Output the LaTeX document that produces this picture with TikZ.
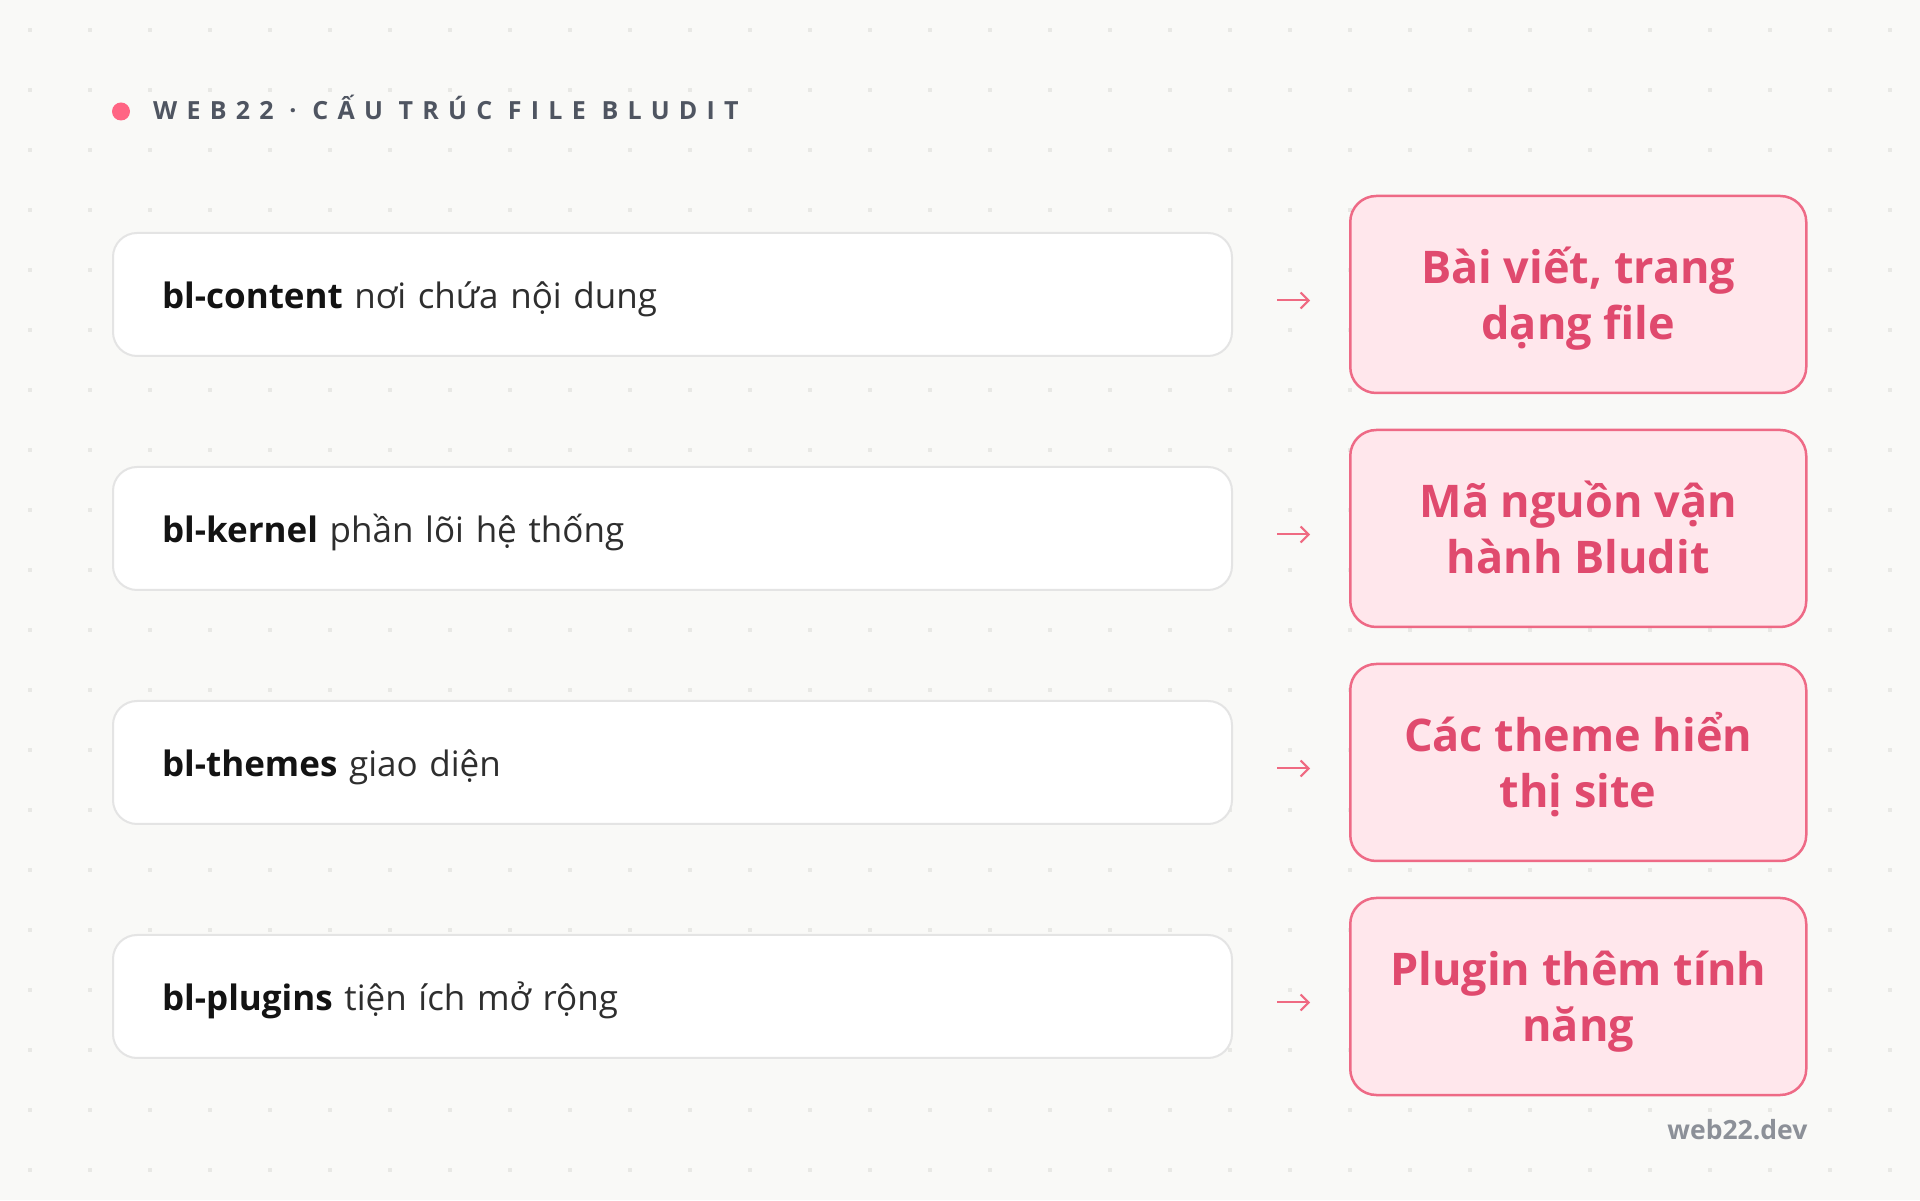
\documentclass[tikz,border=0pt]{standalone}
\usepackage{fontspec}
\setmainfont{Open Sans}
\newfontfamily\titlefont[LetterSpace=37]{Open Sans}
\usetikzlibrary{positioning}
\usetikzlibrary{arrows.meta}
\definecolor{bgcol}{HTML}{F9F9F7}
\definecolor{dotcol}{HTML}{E8E8E5}
\definecolor{boxline}{HTML}{E4E4E4}
\definecolor{bodytext}{HTML}{2E2E2E}
\definecolor{keytext}{HTML}{131313}
\definecolor{pinkfill}{HTML}{FFE7EC}
\definecolor{pinkline}{HTML}{EE6A86}
\definecolor{pinktext}{HTML}{E04A6E}
\definecolor{arrowpink}{HTML}{EF6A82}
\definecolor{dotpink}{HTML}{FF6584}
\definecolor{titlegray}{HTML}{4F5561}
\definecolor{footgray}{HTML}{8C9098}
\tikzset{folder/.style={draw=boxline, line width=2pt, fill=white, rounded corners=24pt,
  minimum height=123pt, text width=1021pt, inner xsep=49pt, align=left,
  font=\fontsize{35}{42}\selectfont, text=bodytext}}
\tikzset{role/.style={draw=pinkline, line width=2.5pt, fill=pinkfill, rounded corners=26pt,
  minimum width=456pt, minimum height=197pt, align=center,
  font=\bfseries\fontsize{45}{56}\selectfont, text=pinktext}}
\tikzset{link/.style={-{Straight Barb[length=8pt,width=16pt]}, line width=2pt, draw=arrowpink}}
\tikzset{footer/.style={inner sep=0pt, font=\bfseries\fontsize{26.5}{30}\selectfont, text=footgray}}
\newcommand{\key}[1]{\rule[-16pt]{0pt}{60pt}{\bfseries\color{keytext}#1}}
\newcommand{\twolines}[2]{\rule{0pt}{51pt}#1\\#2\rule[-16pt]{0pt}{16pt}}

\begin{document}
\begin{tikzpicture}[x=1pt,y=1pt,node distance=109pt]
   \useasboundingbox (0,0) rectangle (1920,1200);
   \fill[bgcol] (0,0) rectangle (1920,1200);
   % dot grid
   \foreach \i in {0,...,31}
      \foreach \j in {0,...,19}
         \fill[dotcol] ({28+60*\i},{1168-60*\j}) rectangle +(4,4);

   \node[circle, fill=dotpink, minimum size=18pt, inner sep=0pt] (bullet) at (121,1088.5) {};
   \node[anchor=base west, inner sep=0pt, text=titlegray,
         font=\titlefont\bfseries\fontsize{25}{30}\selectfont] (title) at (153,1080)
         {WEB22 · CẤU TRÚC FILE BLUDIT};

   \node[folder] (l1) at (672.5,905.5) {\key{bl-content} nơi chứa nội dung};
   \node[folder] (l2) [below=109pt of l1] {\key{bl-kernel} phần lõi hệ thống};
   \node[folder] (l3) [below=109pt of l2] {\key{bl-themes} giao diện};
   \node[folder] (l4) [below=109pt of l3] {\key{bl-plugins} tiện ích mở rộng};

   \node[role] (r1) [right=116pt of l1] {\twolines{Bài viết, trang}{dạng file}};
   \node[role] (r2) [right=116pt of l2] {\twolines{Mã nguồn vận}{hành Bludit}};
   \node[role] (r3) [right=116pt of l3] {\twolines{Các theme hiển}{thị site}};
   \node[role] (r4) [right=116pt of l4] {\twolines{Plugin thêm tính}{năng}};

   \foreach \n in {1,...,4}{
      \coordinate[right=44pt of l\n.east, yshift=-6pt] (a\n s);
      \coordinate[right=33pt of a\n s] (a\n e);
      \draw[link] (a\n s) -- (a\n e);
   }

   \node[footer, below=43pt of r4.south east, anchor=base east] (site) {web22.dev};
\end{tikzpicture}
\end{document}
